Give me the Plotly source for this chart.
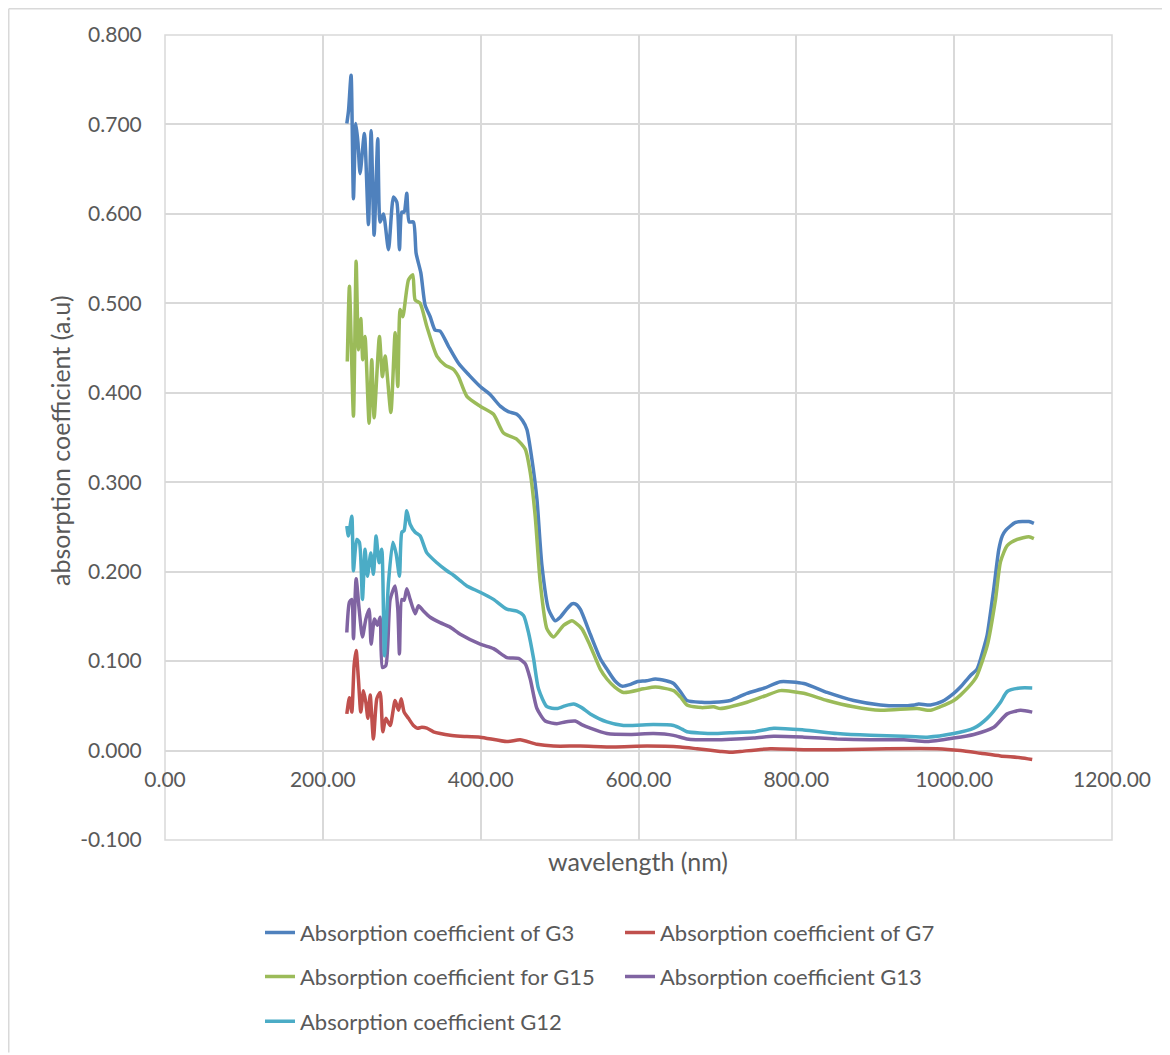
import plotly.graph_objects as go

# ---------------- data ----------------
wl_g3 = [230.4, 232.5, 235.8, 238.8, 241.8, 244.5, 247.2, 252.7, 257.8, 261.2, 265.0, 269.6,
         272.6, 276.8, 283.2, 289.5, 293.8, 297.1, 300.1, 303.0, 306.4, 309.4, 314.8, 318.2,
         324.2, 329.6, 336.0, 342.3, 348.6, 359.2, 371.9, 385.0, 399.4, 412.0, 424.8, 435.0,
         445.9, 453.0, 458.6, 464.9, 471.3, 477.6, 486.0, 494.5, 500.8, 508.0, 515.6, 519.8,
         526.2, 538.9, 551.5, 560.0, 570.0, 579.0, 590.0, 598.0, 610.0, 621.3, 635.0, 644.5,
         653.0, 661.4, 680.0, 695.2, 716.4, 737.5, 760.0, 779.8, 809.4, 839.0, 872.7, 906.6,
         930.0, 950.0, 955.0, 970.0, 985.0, 999.5, 1008.0, 1020.7, 1029.0, 1037.6, 1041.8,
         1050.2, 1056.6, 1061.0, 1065.0, 1077.7, 1094.6, 1101.0]
abs_g3 = [0.701, 0.715, 0.755, 0.617, 0.701, 0.680, 0.645, 0.690, 0.588, 0.693, 0.576, 0.684,
          0.591, 0.600, 0.560, 0.619, 0.613, 0.560, 0.602, 0.602, 0.623, 0.591, 0.591, 0.556,
          0.534, 0.498, 0.485, 0.470, 0.469, 0.452, 0.433, 0.420, 0.407, 0.398, 0.385, 0.379,
          0.376, 0.369, 0.359, 0.326, 0.281, 0.207, 0.158, 0.145, 0.149, 0.157, 0.164, 0.164,
          0.158, 0.130, 0.103, 0.091, 0.078, 0.072, 0.074, 0.077, 0.078, 0.080, 0.078, 0.075,
          0.066, 0.056, 0.054, 0.054, 0.056, 0.064, 0.070, 0.077, 0.075, 0.065, 0.056, 0.051,
          0.050, 0.051, 0.052, 0.051, 0.055, 0.064, 0.071, 0.084, 0.091, 0.115, 0.129,
          0.181, 0.225, 0.240, 0.246, 0.255, 0.256, 0.254]

wl_g7 = [230.4, 233.7, 236.7, 239.6, 242.2, 245.1, 248.1, 251.5, 254.5, 257.1, 260.0, 264.1,
         268.4, 272.6, 276.0, 279.8, 285.3, 291.6, 295.9, 299.3, 303.0, 308.5, 314.8, 319.9,
         325.4, 331.8, 340.2, 348.7, 361.3, 374.1, 399.4, 433.2, 450.0, 471.3, 492.3, 526.2,
         568.5, 610.8, 653.0, 674.2, 703.7, 716.4, 729.0, 767.0, 809.4, 851.7, 915.1, 978.5,
         1008.0, 1033.4, 1058.7, 1084.0, 1098.9]
abs_g7 = [0.041, 0.059, 0.043, 0.095, 0.112, 0.080, 0.043, 0.067, 0.054, 0.036, 0.062, 0.013,
          0.058, 0.065, 0.021, 0.036, 0.028, 0.056, 0.045, 0.058, 0.043, 0.036, 0.028, 0.025,
          0.026, 0.025, 0.021, 0.019, 0.017, 0.016, 0.015, 0.010, 0.012, 0.007, 0.005, 0.005,
          0.004, 0.005, 0.004, 0.002, -0.001, -0.002, -0.001, 0.002, 0.001, 0.001, 0.002, 0.002,
          0.000, -0.003, -0.006, -0.008, -0.010]

wl_g15 = [231.0, 233.7, 238.8, 242.2, 245.1, 248.1, 250.6, 253.5, 258.6, 262.0, 265.0, 271.7,
          275.5, 279.0, 286.2, 291.6, 295.0, 298.0, 301.3, 308.5, 314.0, 316.9, 323.3, 331.8,
          344.5, 355.0, 365.6, 371.9, 382.5, 399.4, 416.3, 429.0, 445.9, 456.5, 462.8, 469.1,
          475.5, 484.0, 492.3, 505.0, 515.6, 519.8, 528.3, 538.9, 551.5, 560.0, 570.0, 581.0,
          606.4, 621.3, 644.5, 653.0, 661.4, 680.0, 695.2, 703.7, 737.5, 760.0, 779.8, 809.4,
          839.0, 872.7, 906.6, 953.0, 970.0, 982.6, 999.5, 1008.0, 1024.9, 1029.0, 1041.8,
          1052.4, 1058.7, 1067.2, 1079.9, 1094.6, 1101.0]
abs_g15 = [0.435, 0.519, 0.374, 0.547, 0.448, 0.483, 0.437, 0.463, 0.366, 0.437, 0.372, 0.463,
           0.418, 0.441, 0.378, 0.467, 0.407, 0.493, 0.485, 0.526, 0.532, 0.504, 0.500, 0.474,
           0.441, 0.431, 0.426, 0.418, 0.396, 0.385, 0.376, 0.355, 0.348, 0.337, 0.311, 0.262,
           0.188, 0.136, 0.127, 0.140, 0.145, 0.143, 0.136, 0.117, 0.091, 0.080, 0.071, 0.065,
           0.069, 0.071, 0.067, 0.060, 0.051, 0.048, 0.049, 0.047, 0.054, 0.061, 0.067, 0.064,
           0.056, 0.049, 0.045, 0.047, 0.045, 0.049, 0.056, 0.062, 0.078, 0.084, 0.117,
           0.169, 0.211, 0.229, 0.236, 0.239, 0.237]

wl_g13 = [230.4, 233.7, 236.7, 238.8, 242.2, 246.0, 250.2, 254.5, 258.6, 261.2, 265.4, 269.2,
          272.6, 275.5, 279.8, 285.3, 291.6, 295.0, 297.1, 300.1, 303.0, 306.4, 310.6, 317.0,
          321.2, 327.5, 336.0, 348.6, 361.3, 374.1, 399.4, 416.3, 433.2, 448.0, 456.5, 462.8,
          471.3, 481.8, 496.6, 507.0, 519.8, 528.0, 538.9, 560.0, 589.5, 619.0, 644.5, 661.4,
          695.2, 745.9, 771.3, 809.4, 851.7, 893.9, 936.2, 965.8, 999.5, 1024.9, 1050.2,
          1067.2, 1084.0, 1098.9]
abs_g13 = [0.132, 0.166, 0.169, 0.125, 0.192, 0.158, 0.127, 0.147, 0.158, 0.119, 0.147, 0.140,
           0.149, 0.093, 0.095, 0.169, 0.184, 0.158, 0.108, 0.169, 0.168, 0.181, 0.169, 0.153,
           0.162, 0.156, 0.149, 0.143, 0.138, 0.130, 0.119, 0.114, 0.104, 0.103, 0.097, 0.080,
           0.047, 0.033, 0.030, 0.032, 0.033, 0.029, 0.025, 0.019, 0.018, 0.019, 0.017, 0.013,
           0.012, 0.014, 0.016, 0.015, 0.013, 0.012, 0.012, 0.010, 0.014, 0.018, 0.026,
           0.041, 0.045, 0.043]

wl_g12 = [230.4, 232.4, 236.7, 238.8, 243.0, 246.3, 250.2, 253.5, 256.5, 260.8, 264.1, 267.5,
          271.3, 274.7, 278.1, 283.2, 288.7, 292.9, 297.1, 300.1, 303.0, 306.4, 310.6, 317.0,
          323.3, 331.8, 344.5, 357.2, 365.6, 374.1, 382.5, 399.4, 416.3, 433.2, 445.9, 454.3,
          460.6, 467.0, 473.3, 484.0, 496.6, 507.0, 517.7, 528.0, 538.9, 560.0, 581.0, 619.0,
          644.5, 655.0, 661.4, 695.2, 716.4, 745.9, 771.3, 809.4, 851.7, 893.9, 936.2, 965.8,
          999.5, 1024.9, 1041.8, 1058.7, 1067.2, 1084.0, 1098.9]
abs_g12 = [0.251, 0.240, 0.262, 0.201, 0.236, 0.233, 0.169, 0.225, 0.195, 0.221, 0.197, 0.240,
           0.210, 0.225, 0.106, 0.188, 0.233, 0.220, 0.195, 0.244, 0.246, 0.268, 0.253, 0.244,
           0.240, 0.221, 0.210, 0.201, 0.196, 0.190, 0.184, 0.177, 0.169, 0.158, 0.156, 0.151,
           0.132, 0.103, 0.069, 0.049, 0.047, 0.050, 0.052, 0.048, 0.041, 0.032, 0.028, 0.029,
           0.028, 0.024, 0.021, 0.019, 0.020, 0.021, 0.025, 0.023, 0.019, 0.017, 0.016, 0.015,
           0.019, 0.025, 0.036, 0.054, 0.066, 0.070, 0.070]

series_names = ["Absorption coefficient of G3", "Absorption coefficient of G7",
                "Absorption coefficient for G15", "Absorption coefficient G13",
                "Absorption coefficient G12"]
series_colors = ["#4F81BD", "#C0504D", "#9BBB59", "#8064A2", "#4BACC6"]
series_legend = ["legend", "legend", "legend2", "legend2", "legend3"]

y_tick_vals = [-0.1, 0.0, 0.1, 0.2, 0.3, 0.4, 0.5, 0.6, 0.7, 0.8]
y_tick_text = ["-0.100", "0.000", "0.100", "0.200", "0.300", "0.400", "0.500",
               "0.600", "0.700", "0.800"]
x_tick_vals = [0, 200, 400, 600, 800, 1000, 1200]
x_tick_text = ["0.00", "200.00", "400.00", "600.00", "800.00", "1000.00", "1200.00"]

x_title = "wavelength (nm)"
y_title = "absorption coefficient (a.u)"

# ---------------- figure ----------------
# The page body has an 8px margin, so the figure is drawn 8px smaller/shifted.
OFF = 8
W, H = 1170 - OFF, 1055 - OFF
L, R, T, B = 165 - OFF, 58, 35 - OFF, 213
pw, ph = W - L - R, H - T - B

def px_x(p):  # screen pixel -> paper x
    return (p - OFF - L) / pw

def px_y(p):  # screen pixel -> paper y
    return (H - B - (p - OFF)) / ph

FONT = "Lato"
TXT = "#595959"
GRID = "#d9d9d9"

fig = go.Figure()
data = [(wl_g3, abs_g3), (wl_g7, abs_g7), (wl_g15, abs_g15), (wl_g13, abs_g13), (wl_g12, abs_g12)]
for (xs, ys), name, col, lg in zip(data, series_names, series_colors, series_legend):
    fig.add_trace(go.Scatter(x=xs, y=ys, mode="lines", name=name, legend=lg,
                             line=dict(color=col, width=3.5, shape="spline", smoothing=0.6)))

legend_common = dict(orientation="h", xanchor="left", yanchor="middle",
                     font=dict(family=FONT, size=22, color=TXT),
                     entrywidth=315, entrywidthmode="pixels",
                     bgcolor="rgba(0,0,0,0)", borderwidth=0)

fig.update_layout(
    width=W, height=H,
    margin=dict(l=L, r=R, t=T, b=B, pad=0),
    paper_bgcolor="white", plot_bgcolor="white",
    font=dict(family=FONT, size=21, color=TXT),
    xaxis=dict(range=[0, 1200], tickmode="array", tickvals=x_tick_vals, ticktext=x_tick_text,
               showgrid=True, gridcolor=GRID, gridwidth=1.5,
               zeroline=False, showline=False,
               anchor="free", position=px_y(752),
               ticks="outside", ticklen=11, tickcolor="rgba(0,0,0,0)",
               tickfont=dict(family=FONT, size=21, color=TXT)),
    yaxis=dict(range=[-0.1, 0.8], tickmode="array", tickvals=y_tick_vals, ticktext=y_tick_text,
               showgrid=True, gridcolor=GRID, gridwidth=1.5,
               zeroline=False, showline=False,
               ticks="outside", ticklen=18, tickcolor="rgba(0,0,0,0)",
               tickfont=dict(family=FONT, size=21, color=TXT)),
    legend=dict(x=px_x(260), y=px_y(935), **legend_common),
    legend2=dict(x=px_x(260), y=px_y(979), **legend_common),
    legend3=dict(x=px_x(260), y=px_y(1024), **legend_common),
    showlegend=True,
)

# plot frame
fig.add_shape(type="rect", xref="paper", yref="paper", x0=0, y0=0, x1=1, y1=1,
              line=dict(color=GRID, width=1.5), layer="below")
# outer chart border (top and left edges visible)
fig.add_shape(type="line", xref="paper", yref="paper", x0=px_x(8.75), x1=px_x(1170),
              y0=px_y(8.75), y1=px_y(8.75), line=dict(color=GRID, width=1.5))
fig.add_shape(type="line", xref="paper", yref="paper", x0=px_x(8.75), x1=px_x(8.75),
              y0=px_y(8.75), y1=px_y(1055), line=dict(color=GRID, width=1.5))

fig.add_annotation(text=x_title, xref="paper", yref="paper", x=px_x(638), y=px_y(863),
                   xanchor="center", yanchor="middle", showarrow=False,
                   font=dict(family=FONT, size=25, color=TXT))
fig.add_annotation(text=y_title, xref="paper", yref="paper", x=px_x(60), y=px_y(442),
                   xanchor="center", yanchor="middle", showarrow=False, textangle=-90,
                   font=dict(family=FONT, size=25, color=TXT))

fig.write_html("out.html")
